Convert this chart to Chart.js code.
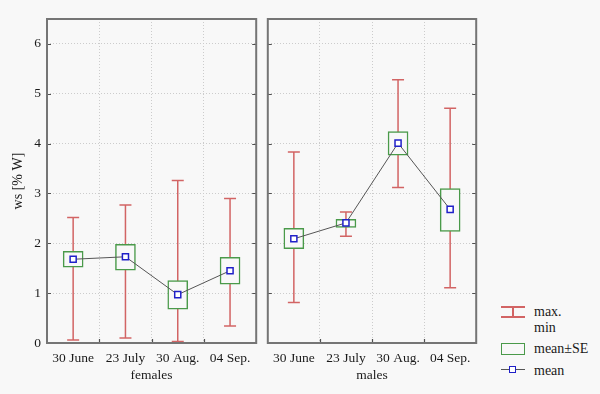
<!DOCTYPE html>
<html>
<head>
<meta charset="utf-8">
<script src="https://cdn.jsdelivr.net/npm/chart.js@4"></script>
<style>
  html, body { margin:0; padding:0; background:#f8f8f8; }
  #wrap { position:relative; width:600px; height:394px; background:#f8f8f8; overflow:hidden; }
  canvas { position:absolute; top:0; }
  .lg { position:absolute; font-family:'Liberation Serif', serif; font-size:14px; color:#1a1a1a; line-height:16px; }
  .ico { position:absolute; }
</style>
</head>
<body>
<div id="wrap">
  <canvas id="cf" width="262" height="394" style="left:0"></canvas>
  <canvas id="cm" width="220" height="394" style="left:262px"></canvas>

  <!-- legend -->
  <div class="ico" style="left:501px;top:306px;width:24px;height:1.5px;background:#d26464"></div>
  <div class="ico" style="left:512px;top:306px;width:1.5px;height:11px;background:#d26464"></div>
  <div class="ico" style="left:501px;top:316px;width:24px;height:1.5px;background:#d26464"></div>
  <div class="lg" style="left:534px;top:304px">max.</div>
  <div class="lg" style="left:534px;top:320px">min</div>

  <div class="ico" style="left:501px;top:343px;width:22px;height:10px;border:1.5px solid #4a9a4a"></div>
  <div class="lg" style="left:534px;top:341px">mean±SE</div>

  <div class="ico" style="left:501px;top:369px;width:24px;height:1px;background:#555"></div>
  <div class="ico" style="left:509px;top:366px;width:5px;height:5px;border:1.5px solid #2020c8;background:#fff"></div>
  <div class="lg" style="left:534px;top:363px">mean</div>
</div>
<script>
const categories = ['30 June', '23 July', '30 Aug.', '04 Sep.'];
const yTickValues = [0, 1, 2, 3, 4, 5, 6];

const femalesMean   = [1.68, 1.73, 0.97, 1.45];
const femalesSeLow  = [1.52, 1.46, 0.68, 1.18];
const femalesSeHigh = [1.84, 1.98, 1.25, 1.72];
const femalesMin    = [0.06, 0.10, 0.03, 0.34];
const femalesMax    = [2.52, 2.77, 3.26, 2.90];

const malesMean   = [2.09, 2.41, 4.01, 2.68];
const malesSeLow  = [1.89, 2.32, 3.77, 2.24];
const malesSeHigh = [2.30, 2.48, 4.24, 3.10];
const malesMin    = [0.81, 2.14, 3.12, 1.11];
const malesMax    = [3.83, 2.63, 5.28, 4.71];

const BG = '#f8f8f8';
const RED = '#d26464';
const GREEN = '#4a9a4a';
const BLUE = '#2020c8';
const FRAME = '#757575';
const GRID = '#cccccc';
const FONT = 'Liberation Serif';

const whiskerPlugin = {
  id: 'whiskers',
  beforeDatasetsDraw(chart) {
    const w = chart.options.plugins.whiskers;
    const x = chart.scales.x, y = chart.scales.y;
    const ctx = chart.ctx;
    ctx.save();
    ctx.strokeStyle = RED;
    ctx.lineWidth = 1.5;
    w.min.forEach((mn, i) => {
      const px = x.getPixelForValue(i);
      const y1 = y.getPixelForValue(mn), y2 = y.getPixelForValue(w.max[i]);
      ctx.beginPath();
      ctx.moveTo(px, y1); ctx.lineTo(px, y2);
      ctx.moveTo(px - 6, y1); ctx.lineTo(px + 6, y1);
      ctx.moveTo(px - 6, y2); ctx.lineTo(px + 6, y2);
      ctx.stroke();
    });
    ctx.restore();
  },
  afterDraw(chart) {
    const a = chart.chartArea;
    const y = chart.scales.y;
    const ctx = chart.ctx;
    ctx.save();
    ctx.strokeStyle = '#505050';
    ctx.lineWidth = 1.2;
    ctx.beginPath();
    y.ticks.forEach(t => {
      const py = Math.round(y.getPixelForValue(t.value)) + 0.5;
      ctx.moveTo(a.left, py); ctx.lineTo(a.left + 4, py);
      ctx.moveTo(a.right, py); ctx.lineTo(a.right - 4, py);
    });
    const step = (a.right - a.left) / categories.length;
    for (let i = 1; i < categories.length; i++) {
      const px = Math.round(a.left + i * step) + 0.5;
      ctx.moveTo(px, a.bottom); ctx.lineTo(px, a.bottom - 4);
    }
    ctx.stroke();
    ctx.strokeStyle = FRAME;
    ctx.lineWidth = 2;
    ctx.strokeRect(a.left, a.top, a.right - a.left, a.bottom - a.top);
    ctx.restore();
  }
};

function makeChart(id, mean, lo, hi, mn, mx, title, isLeft) {
  return new Chart(document.getElementById(id), {
    type: 'bar',
    data: {
      labels: categories,
      datasets: [
        {
          type: 'line',
          data: mean,
          borderColor: '#555555',
          borderWidth: 1,
          pointStyle: 'rect',
          pointRadius: 4.3,
          pointBorderWidth: 1.5,
          pointBorderColor: BLUE,
          pointBackgroundColor: '#ffffff',
          order: 0
        },
        {
          type: 'bar',
          data: lo.map((v, i) => [v, hi[i]]),
          backgroundColor: BG,
          borderColor: GREEN,
          borderWidth: 1.5,
          borderSkipped: false,
          barThickness: 20,
          order: 1
        }
      ]
    },
    options: {
      responsive: false,
      animation: false,
      events: [],
      layout: { padding: isLeft ? { top: 19, right: 2, left: 0, bottom: 0 } : { top: 19, right: 3, left: 0, bottom: 0 } },
      plugins: {
        legend: { display: false },
        tooltip: { enabled: false },
        whiskers: { min: mn, max: mx }
      },
      scales: {
        x: {
          offset: true,
          grid: { offset: true, color: GRID, drawTicks: false },
          border: { display: false, dash: [1, 2] },
          ticks: { color: '#1a1a1a', font: { family: FONT, size: 13.5 }, padding: 7, maxRotation: 0 },
          title: { display: true, text: title, color: '#1a1a1a', font: { family: FONT, size: 13.5 }, padding: { top: 0, bottom: 10 } },
          afterFit(s) { s.height = 51; }
        },
        y: {
          min: 0, max: 6.5,
          grid: { color: GRID, drawTicks: false },
          border: { display: false, dash: [1, 2] },
          afterBuildTicks(s) { s.ticks = yTickValues.map(v => ({ value: v })); },
          ticks: { display: isLeft, color: '#1a1a1a', font: { family: FONT, size: 13.5 }, padding: 6 },
          title: { display: isLeft, text: 'ws [% W]', color: '#1a1a1a', font: { family: FONT, size: 14 }, padding: { top: 10, bottom: 0 } },
          afterFit(s) { s.width = isLeft ? 47 : 5; }
        }
      }
    },
    plugins: [whiskerPlugin]
  });
}

makeChart('cf', femalesMean, femalesSeLow, femalesSeHigh, femalesMin, femalesMax, 'females', true);
makeChart('cm', malesMean, malesSeLow, malesSeHigh, malesMin, malesMax, 'males', false);
</script>
</body>
</html>
